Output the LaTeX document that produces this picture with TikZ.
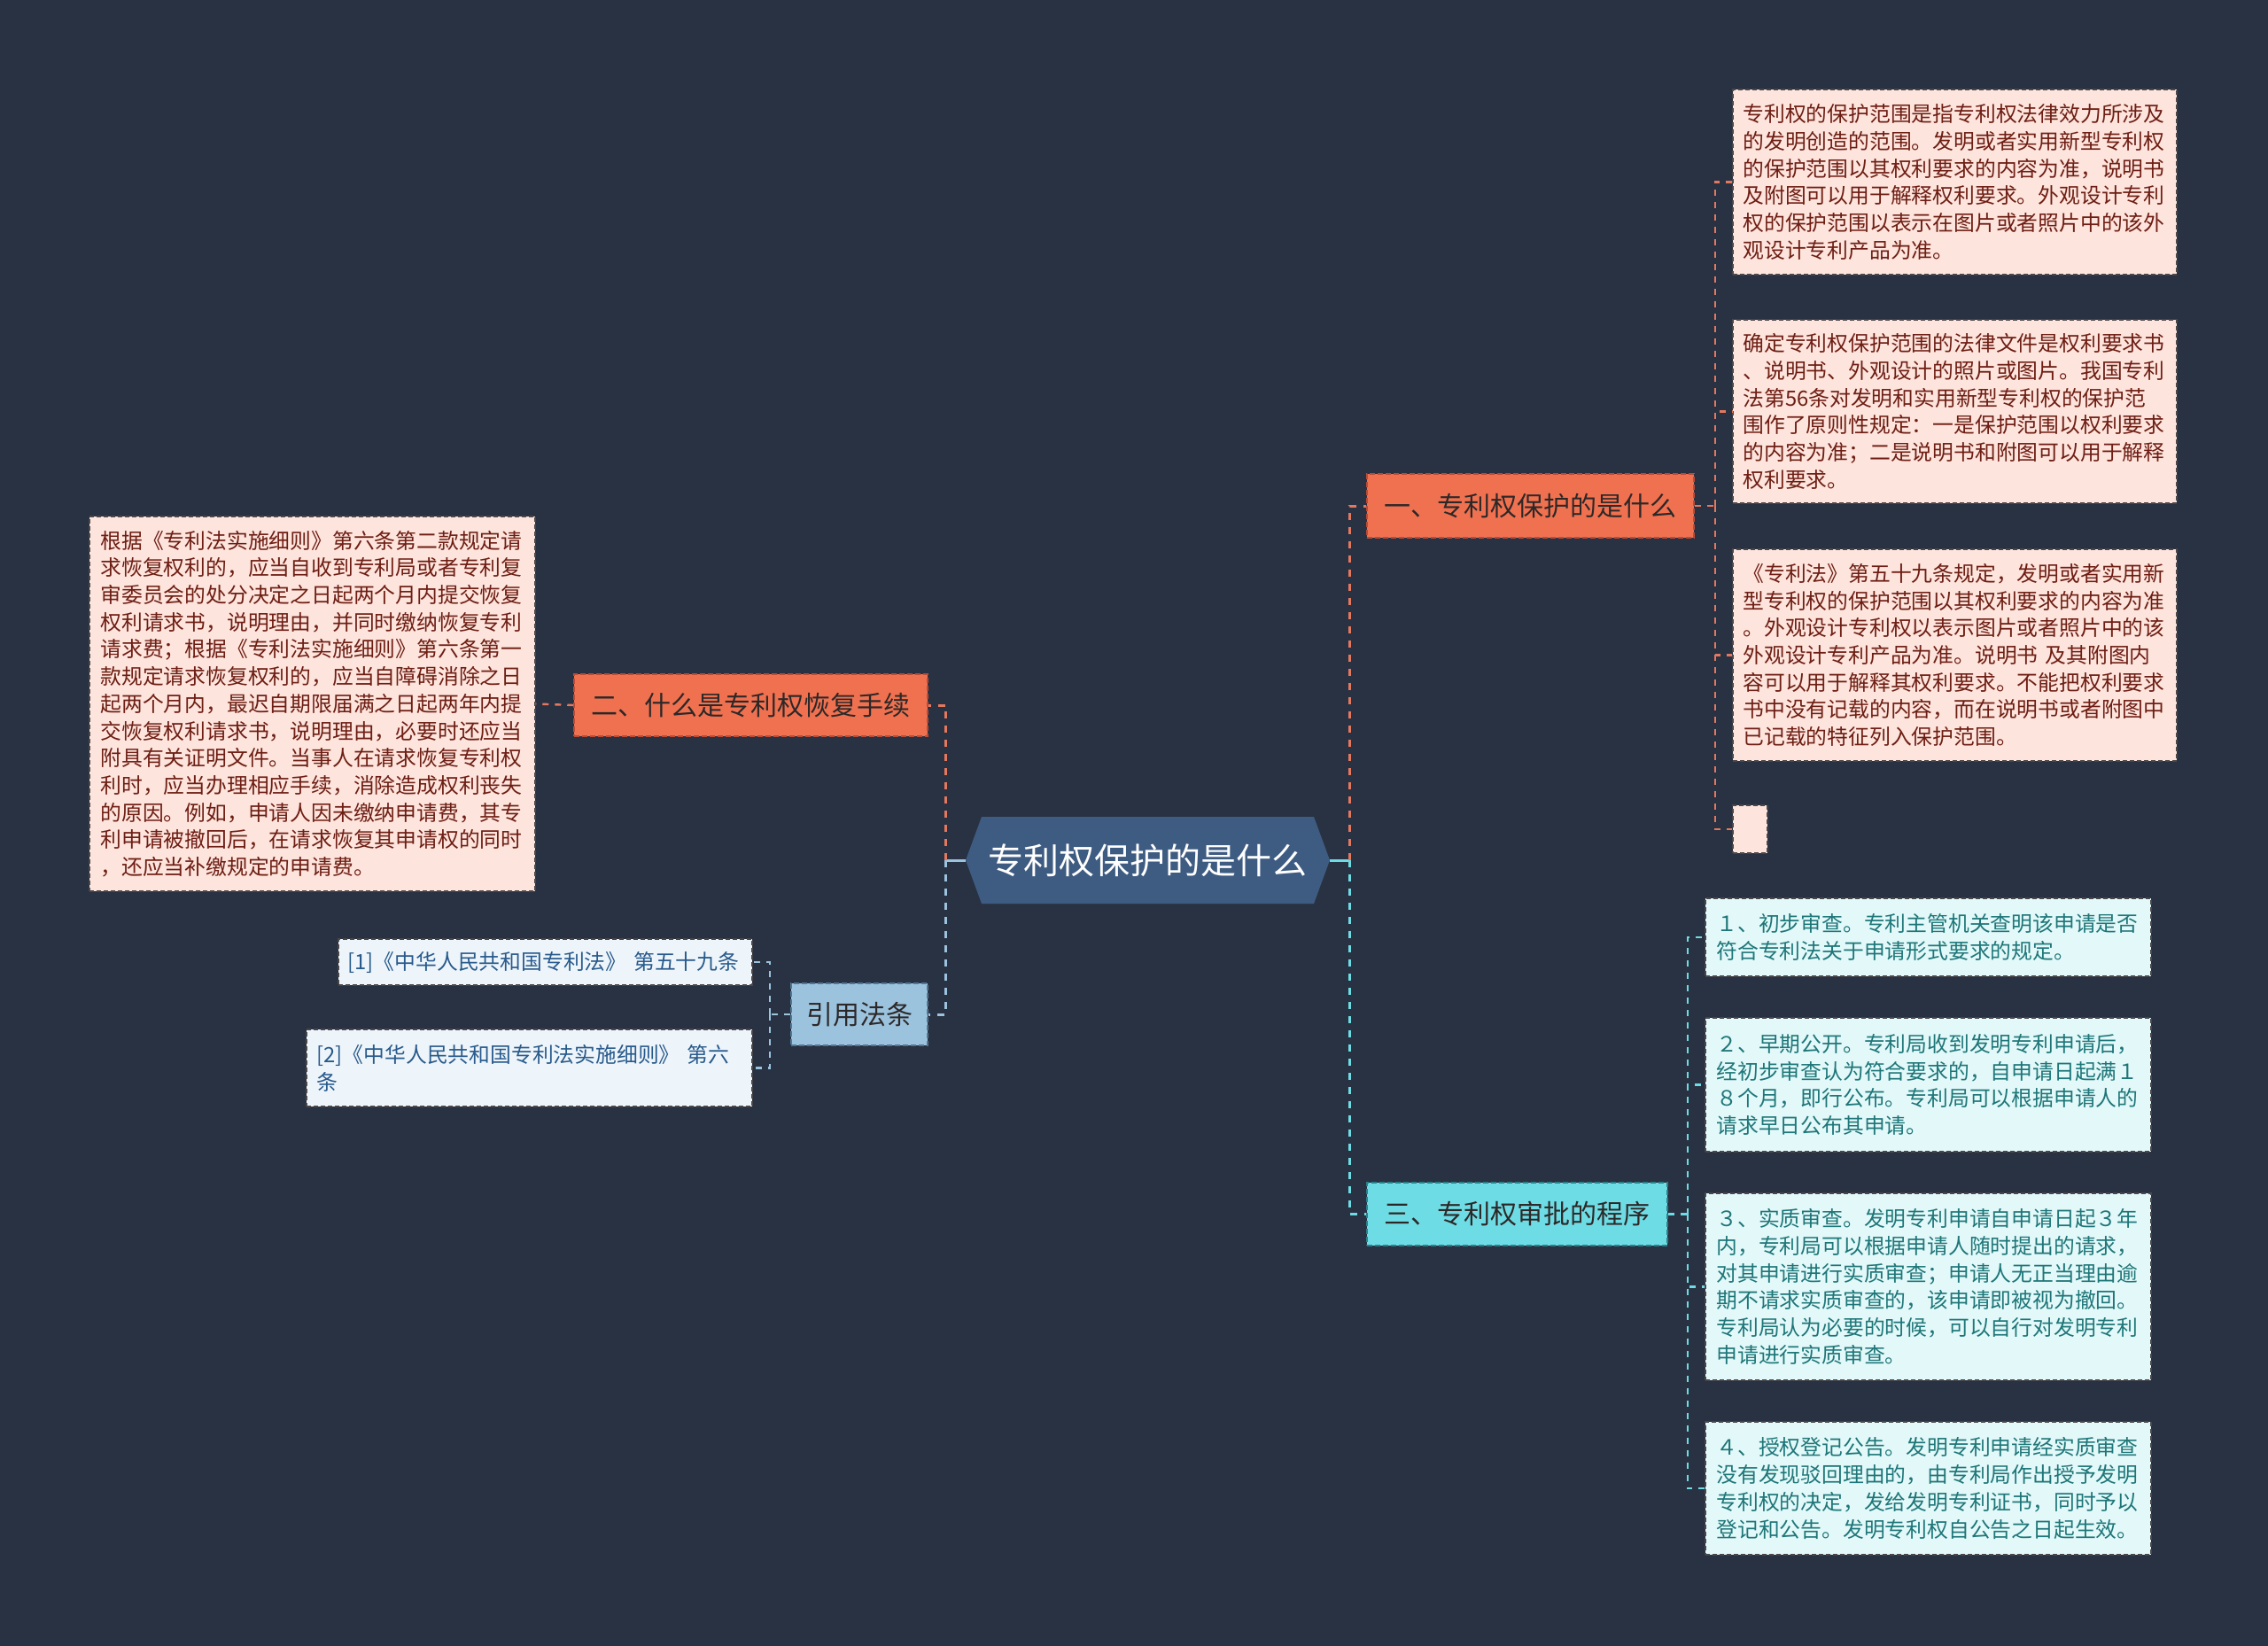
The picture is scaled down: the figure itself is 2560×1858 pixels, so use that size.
\documentclass[tikz,border=0pt]{standalone}
\usepackage{fontspec}
\setmainfont{Noto Sans CJK SC}
\usepackage{xcolor}
\usepackage{tikz}
\definecolor{bgnavy}{RGB}{41,50,66}
\definecolor{rootblue}{RGB}{62,92,130}
\definecolor{coral}{RGB}{240,113,80}
\definecolor{coraledge}{RGB}{185,75,55}
\definecolor{corallink}{RGB}{228,120,95}
\definecolor{pinkfill}{RGB}{253,228,220}
\definecolor{pinktext}{RGB}{110,30,20}
\definecolor{aqua}{RGB}{110,220,228}
\definecolor{aquaedge}{RGB}{40,130,140}
\definecolor{cyanfill}{RGB}{226,248,249}
\definecolor{cyantext}{RGB}{30,118,120}
\definecolor{lawblue}{RGB}{155,195,222}
\definecolor{lawedge}{RGB}{80,120,150}
\definecolor{lawfill}{RGB}{238,245,250}
\definecolor{lawtext}{RGB}{40,90,140}
\definecolor{leafedge}{RGB}{75,70,72}
\definecolor{topictext}{RGB}{45,40,40}
\newcommand{\leafsize}{\fontsize{23.8pt}{30.7pt}\selectfont}
\newcommand{\topicsize}{\fontsize{30pt}{36pt}\selectfont}

\begin{document}
\begin{tikzpicture}[x=1pt, y=-1pt,
    box/.style={rectangle, inner sep=0pt, align=left, line width=1.3pt, dash pattern=on 5pt off 3pt},
    pinkbox/.style={box, fill=pinkfill, draw=leafedge, text=pinktext, text width=478pt, minimum width=501pt, font=\leafsize},
    cyanbox/.style={box, fill=cyanfill, draw=leafedge, text=cyantext, text width=478pt, minimum width=503pt, font=\leafsize},
    lawbox/.style={box, fill=lawfill, draw=leafedge, text=lawtext, font=\leafsize},
    topic/.style={rectangle, inner sep=0pt, line width=1.5pt, dash pattern=on 6pt off 3pt, text=topictext, font=\topicsize},
    link/.style={line width=3pt, dash pattern=on 8pt off 8pt},
    stub/.style={line width=3pt},
    leaflink/.style={line width=2.4pt, dash pattern=on 7pt off 7pt}
]
\fill[bgnavy] (0,0) rectangle (2560,1858);
\useasboundingbox (0,0) rectangle (2560,1858);

\fill[rootblue] (1108,922) -- (1483,922) -- (1501,971) -- (1483,1020) -- (1108,1020) -- (1090,971) -- cycle;
\node (root) at (1295.5,971) [minimum width=411pt, minimum height=98pt, inner sep=0pt, text=white, font=\fontsize{40pt}{48pt}\selectfont] {专利权保护的是什么};

\node[topic, fill=coral, draw=coraledge, minimum width=369pt, minimum height=72pt] (sec1) at (1727.5,571) {一、专利权保护的是什么};
\node[topic, fill=coral, draw=coraledge, minimum width=399pt, minimum height=70pt] (sec2) at (847.5,796) {二、什么是专利权恢复手续};
\node[topic, fill=aqua, draw=aquaedge, minimum width=339pt, minimum height=71pt] (sec3) at (1712.5,1370.5) {三、专利权审批的程序};
\node[topic, fill=lawblue, draw=lawedge, minimum width=154pt, minimum height=70pt] (cite) at (970,1145) {引用法条};

\node[pinkbox, minimum height=209pt] (scope1) at (2206.5,205.5) {专利权的保护范围是指专利权法律效力所涉及\\
的发明创造的范围。发明或者实用新型专利权\\
的保护范围以其权利要求的内容为准，说明书\\
及附图可以用于解释权利要求。外观设计专利\\
权的保护范围以表示在图片或者照片中的该外\\
观设计专利产品为准。};
\node[pinkbox, minimum height=207pt] (scope2) at (2206.5,464.5) {确定专利权保护范围的法律文件是权利要求书\\
、说明书、外观设计的照片或图片。我国专利\\
法第56条对发明和实用新型专利权的保护范\\
围作了原则性规定：一是保护范围以权利要求\\
的内容为准；二是说明书和附图可以用于解释\\
权利要求。};
\node[pinkbox, minimum height=239pt] (scope3) at (2206.5,739.5) {《专利法》第五十九条规定，发明或者实用新\\
型专利权的保护范围以其权利要求的内容为准\\
。外观设计专利权以表示图片或者照片中的该\\
外观设计专利产品为准。说明书~及其附图内\\
容可以用于解释其权利要求。不能把权利要求\\
书中没有记载的内容，而在说明书或者附图中\\
已记载的特征列入保护范围。};
\node[box, fill=pinkfill, draw=leafedge, minimum width=39pt, minimum height=54pt] (scope4) at (1975.5,936) {};

\node[pinkbox, minimum width=503pt, minimum height=423pt] (restore) at (352.5,794.5) {根据《专利法实施细则》第六条第二款规定请\\
求恢复权利的，应当自收到专利局或者专利复\\
审委员会的处分决定之日起两个月内提交恢复\\
权利请求书，说明理由，并同时缴纳恢复专利\\
请求费；根据《专利法实施细则》第六条第一\\
款规定请求恢复权利的，应当自障碍消除之日\\
起两个月内，最迟自期限届满之日起两年内提\\
交恢复权利请求书，说明理由，必要时还应当\\
附具有关证明文件。当事人在请求恢复专利权\\
利时，应当办理相应手续，消除造成权利丧失\\
的原因。例如，申请人因未缴纳申请费，其专\\
利申请被撤回后，在请求恢复其申请权的同时\\
，还应当补缴规定的申请费。};

\node[lawbox, text width=446pt, minimum width=467pt, minimum height=52pt] (law1) at (615.5,1086) {[1]《中华人民共和国专利法》~第五十九条};
\node[lawbox, text width=480pt, minimum width=503pt, minimum height=87pt] (law2) at (597.5,1205.5) {[2]《中华人民共和国专利法实施细则》~第六\\
条};

\node[cyanbox, minimum height=88pt] (stage1) at (2176.5,1058) {１、初步审查。专利主管机关查明该申请是否\\
符合专利法关于申请形式要求的规定。};
\node[cyanbox, minimum height=151pt] (stage2) at (2176.5,1224.5) {２、早期公开。专利局收到发明专利申请后，\\
经初步审查认为符合要求的，自申请日起满１\\
８个月，即行公布。专利局可以根据申请人的\\
请求早日公布其申请。};
\node[cyanbox, minimum height=211pt] (stage3) at (2176.5,1452.5) {３、实质审查。发明专利申请自申请日起３年\\
内，专利局可以根据申请人随时提出的请求，\\
对其申请进行实质审查；申请人无正当理由逾\\
期不请求实质审查的，该申请即被视为撤回。\\
专利局认为必要的时候，可以自行对发明专利\\
申请进行实质审查。};
\node[cyanbox, minimum height=150pt] (stage4) at (2176.5,1680) {４、授权登记公告。发明专利申请经实质审查\\
没有发现驳回理由的，由专利局作出授予发明\\
专利权的决定，发给发明专利证书，同时予以\\
登记和公告。发明专利权自公告之日起生效。};

\coordinate (jr) at ([xshift=22pt]root.east);
\coordinate (jl) at ([xshift=-22pt]root.west);
\coordinate (j1) at ([xshift=23pt]sec1.east);
\coordinate (j3) at ([xshift=22pt]sec3.east);
\coordinate (jc) at ([xshift=-23pt]cite.west);

\draw[stub, aqua] (root.east) -- (jr);
\draw[stub, lawblue] (root.west) -- (jl);
\draw[link, corallink] (jr) |- (sec1.west);
\draw[link, aqua] (jr) |- (sec3.west);
\draw[link, corallink] (jl) |- (sec2.east);
\draw[link, lawblue] (jl) |- (cite.east);

\draw[leaflink, corallink] (sec1.east) -- (j1);
\foreach \leaf in {scope1,scope2,scope3,scope4}
  \draw[leaflink, corallink] (j1) |- (\leaf.west);
\draw[leaflink, corallink] (sec2.west) -- (restore.east);
\draw[leaflink, lawblue] (cite.west) -- (jc);
\foreach \leaf in {law1,law2}
  \draw[leaflink, lawblue] (jc) |- (\leaf.east);
\draw[leaflink, aqua] (sec3.east) -- (j3);
\foreach \leaf in {stage1,stage2,stage3,stage4}
  \draw[leaflink, aqua] (j3) |- (\leaf.west);
\end{tikzpicture}
\end{document}
